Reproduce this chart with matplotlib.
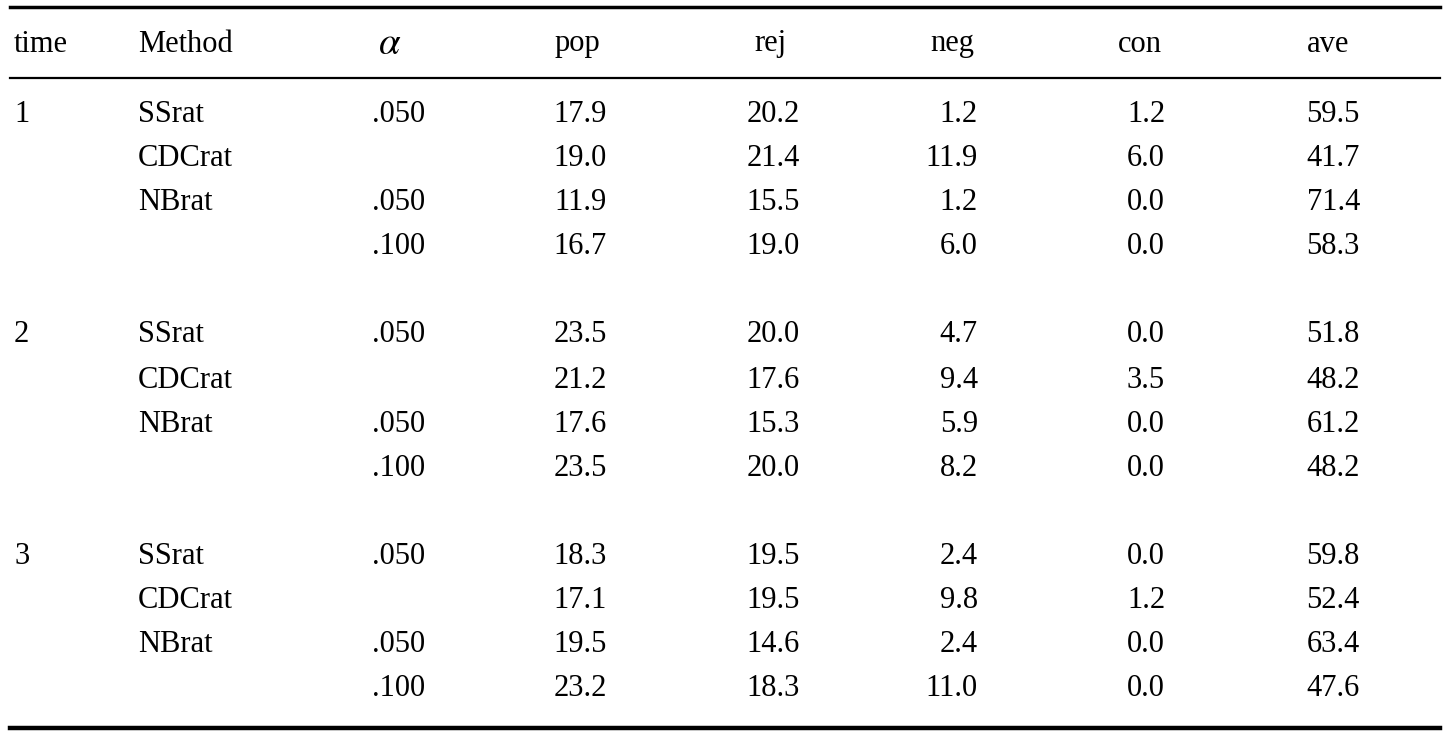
import matplotlib.pyplot as plt

plt.rcParams["font.family"] = ["Liberation Serif", "DejaVu Serif"]
plt.rcParams["mathtext.fontset"] = "stix"

headers = ["time", "Method", r"$\alpha$", "pop", "rej", "neg", "con", "ave"]
times = ["1", "", "", "", "2", "", "", "", "3", "", "", ""]
methods = ["SSrat", "CDCrat", "NBrat", ""] * 3
alphas = [".050", "", ".050", ".100"] * 3
pop = ["17.9", "19.0", "11.9", "16.7", "23.5", "21.2", "17.6", "23.5", "18.3", "17.1", "19.5", "23.2"]
rej = ["20.2", "21.4", "15.5", "19.0", "20.0", "17.6", "15.3", "20.0", "19.5", "19.5", "14.6", "18.3"]
neg = ["1.2", "11.9", "1.2", "6.0", "4.7", "9.4", "5.9", "8.2", "2.4", "9.8", "2.4", "11.0"]
con = ["1.2", "6.0", "0.0", "0.0", "0.0", "3.5", "0.0", "0.0", "0.0", "1.2", "0.0", "0.0"]
ave = ["59.5", "41.7", "71.4", "58.3", "51.8", "48.2", "61.2", "48.2", "59.8", "52.4", "63.4", "47.6"]

row_y = [114, 158, 202, 246, 334, 380, 424, 468, 556, 600, 644, 688]
header_x = [14, 138, 390, 577, 770, 952, 1140, 1328]
header_ha = ["left", "left", "center", "center", "center", "center", "center", "center"]
col_x = [14, 138, 425, 607, 800, 978, 1165, 1360]
col_ha = ["left", "left", "right", "right", "right", "right", "right", "right"]
columns = [times, methods, alphas, pop, rej, neg, con, ave]

fig = plt.figure(figsize=(14.48, 7.36), dpi=100)
ax = fig.add_axes([0, 0, 1, 1])
ax.set_xlim(0, 1448)
ax.set_ylim(736, 0)
ax.axis("off")

fs = 22
for x, ha, h in zip(header_x, header_ha, headers):
    size = fs + 6 if h.startswith("$") else fs
    ax.text(x, 44, h, ha=ha, va="center", fontsize=size)

for col, x, ha in zip(columns, col_x, col_ha):
    for y, v in zip(row_y, col):
        ax.text(x, y, v, ha=ha, va="center", fontsize=fs)

ax.plot([10, 1440], [7, 7], color="black", lw=2.5)
ax.plot([10, 1440], [78, 78], color="black", lw=1.6)
ax.plot([10, 1440], [728, 728], color="black", lw=3.2)

fig.savefig("out.png", dpi=100)
